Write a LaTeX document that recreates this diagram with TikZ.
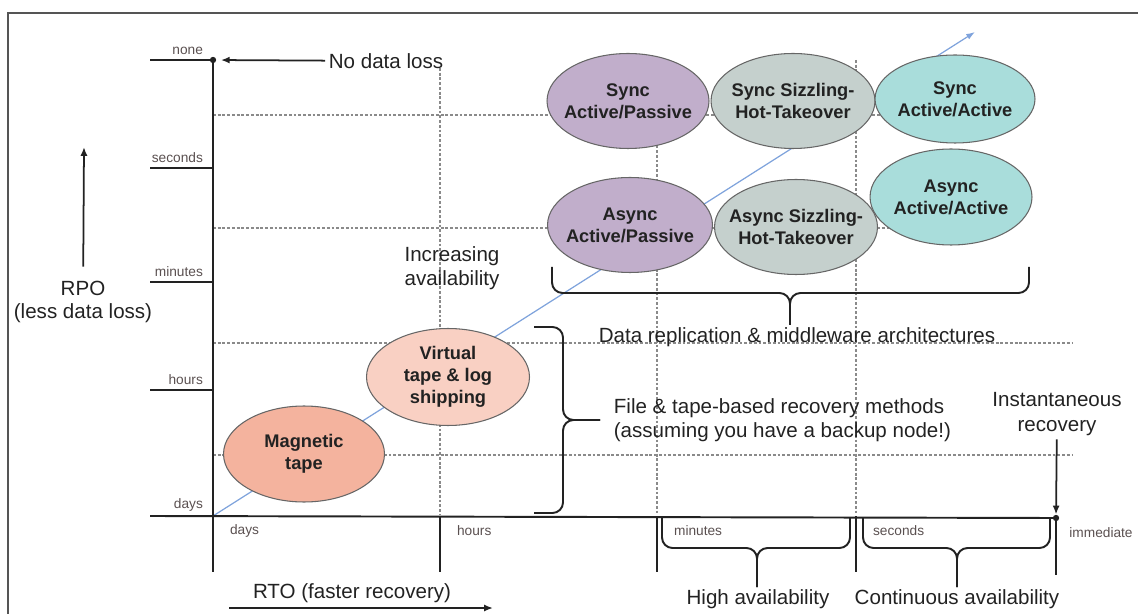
\documentclass[tikz,border=0pt]{standalone}
\usepackage{fontspec}
\setmainfont{Liberation Sans}
\usepackage{tikz}
\usetikzlibrary{arrows.meta,positioning,shapes.geometric}
\definecolor{tapecolor}{HTML}{F4B39E}
\definecolor{vtapecolor}{HTML}{F9D0C3}
\definecolor{passivecolor}{HTML}{C1AECB}
\definecolor{hotcolor}{HTML}{C5D0CD}
\definecolor{activecolor}{HTML}{A9DDDB}
\definecolor{ink}{HTML}{222222}
\definecolor{gridcolor}{HTML}{8A8A8A}
\definecolor{trendcolor}{HTML}{7FA3DC}
\definecolor{tickcolor}{HTML}{5A5050}
\definecolor{framecolor}{HTML}{555555}
\tikzset{
  methodnode/.style={
    ellipse,
    draw=black!60,
    line width=0.6pt,
    inner xsep=-14pt,
    inner ysep=0pt,
    minimum width=3.24cm,
    minimum height=1.9cm,
    align=center,
    font=\fontsize{10.4}{12.5}\selectfont\bfseries,
    text=ink
  },
  mainlabel/.style={font=\fontsize{11.7}{14}\selectfont, text=ink, align=center, inner sep=2pt},
  ticklabel/.style={font=\fontsize{7.8}{9}\selectfont, text=tickcolor, inner sep=1pt},
  axisline/.style={line width=1.1pt, draw=ink},
  gridline/.style={line width=0.6pt, draw=gridcolor, dash pattern=on 1.6pt off 1.1pt},
  bracepath/.style={line width=1.1pt, draw=ink, rounded corners=6pt},
  flowarrow/.style={-{Latex[length=5pt,width=4pt]}, line width=1pt, draw=ink},
  trendarrow/.style={-{Latex[length=5pt,width=3.5pt]}, line width=0.7pt, draw=trendcolor}
}

\begin{document}
\begin{tikzpicture}[x=0.02cm, y=-0.02cm]
  \useasboundingbox (0,0) rectangle (1138,614);
  \draw[line width=1.6pt, draw=framecolor] (8,614) -- (8,13) -- (1138,13);

  % grid
  \foreach \gy/\gend in {115/1000,228/1000,343/1073,455/1073}
    \draw[gridline] (213,\gy) -- (\gend,\gy);
  \draw[gridline] (440,68) -- (440,515);
  \foreach \gx in {657,856}
    \draw[gridline] (\gx,60) -- (\gx,515);

  % availability trend
  \coordinate (origin) at (213,516);
  \coordinate (trendtip) at (975,32);
  \draw[trendarrow] (origin) -- (trendtip);
  \node[mainlabel] (increase) at (452,268) {Increasing\\availability};

  % RPO axis
  \coordinate (nonedot) at (213,60);
  \coordinate (immdot) at (1056,518);
  \draw[axisline] (nonedot) -- (213,572);
  \draw[axisline] (151,516) -- (immdot);
  \foreach \ty/\lbl in {60/none,168/seconds,282/minutes,390/hours,516/days} {
    \draw[axisline] (150,\ty) -- (213,\ty);
    \node[ticklabel, anchor=south east] (rpo-\lbl) at (205,\ty-3) {\lbl};
  }
  \fill[ink] (nonedot) circle (1.8pt);

  % RTO axis
  \foreach \tx/\lbl in {213/days,440/hours,657/minutes,856/seconds} {
    \draw[axisline] (\tx,516) -- (\tx,572);
    \node[ticklabel, anchor=west] (rto-\lbl) at (\tx+15,531) {\lbl};
  }
  \draw[axisline] (immdot) -- (1056,575);
  \node[ticklabel] (rto-immediate) at (1101,533) {immediate};

  % recovery methods
  \node[methodnode, fill=tapecolor, minimum width=3.22cm, minimum height=1.92cm] (magtape) at (304,454) {Magnetic\\tape};
  \node[methodnode, fill=vtapecolor, minimum width=3.26cm, minimum height=1.94cm] (vtape) at (448,377) {Virtual\\tape \& log\\shipping};
  \node[methodnode, fill=passivecolor] (syncpassive) at (628,101) {Sync\\Active/Passive};
  \node[methodnode, fill=hotcolor, minimum width=3.28cm] (synchot) at (793,101) {Sync Sizzling-\\Hot-Takeover};
  \node[methodnode, fill=activecolor, minimum width=3.2cm, minimum height=1.76cm] (syncactive) at (955,99) {Sync\\Active/Active};
  \node[methodnode, fill=passivecolor, minimum width=3.3cm] (asyncpassive) at (630,225) {Async\\Active/Passive};
  \node[methodnode, fill=hotcolor, minimum width=3.26cm] (asynchot) at (796,227) {Async Sizzling-\\Hot-Takeover};
  \node[methodnode, fill=activecolor, minimum width=3.24cm, minimum height=1.92cm] (asyncactive) at (951,197) {Async\\Active/Active};

  % braces
  \draw[bracepath] (552,267) -- (552,293) -- (790,293) -- (790,325);
  \draw[bracepath] (1029,267) -- (1029,293) -- (790,293) -- (790,325);
  \draw[bracepath] (534,327) -- (563,327) -- (563,420) -- (600,420);
  \draw[bracepath] (534,513) -- (563,513) -- (563,420) -- (600,420);
  \draw[bracepath] (662,518) -- (662,548) -- (757,548) -- (757,587);
  \draw[bracepath] (850,518) -- (850,548) -- (757,548) -- (757,587);
  \draw[bracepath] (863,518) -- (863,548) -- (957,548) -- (957,587);
  \draw[bracepath] (1050,518) -- (1050,548) -- (957,548) -- (957,587);

  % labels
  \node[mainlabel] (nodata) at (386,61) {No data loss};
  \draw[flowarrow, shorten >=4.5pt] (nodata) -- (nonedot);
  \node[mainlabel] (datarep) at (797,337) {Data replication \& middleware architectures};
  \node[mainlabel, anchor=west, align=left] (filerec) at (610,420) {File \& tape-based recovery methods\\(assuming you have a backup node!)};
  \node[mainlabel] (instant) at (1057,414) {Instantaneous\\recovery};
  \draw[flowarrow, shorten >=2pt] (instant) -- (immdot);
  \fill[ink] (immdot) circle (1.8pt);
  \node[mainlabel] (highavail) at (758,599) {High availability};
  \node[mainlabel] (contavail) at (957,599) {Continuous availability};

  \node[mainlabel, font=\fontsize{11.7}{13.2}\selectfont] (rpo) at (83,302) {RPO\\(less data loss)};
  \coordinate (rpotip) at (84,147);
  \draw[flowarrow, shorten <=6pt] (rpo) -- (rpotip);

  \node[mainlabel] (rto) at (352,593) {RTO (faster recovery)};
  \coordinate (rtostart) at (229,608);
  \coordinate (rtoend) at (493,608);
  \draw[flowarrow] (rtostart) -- (rtoend);
\end{tikzpicture}
\end{document}
